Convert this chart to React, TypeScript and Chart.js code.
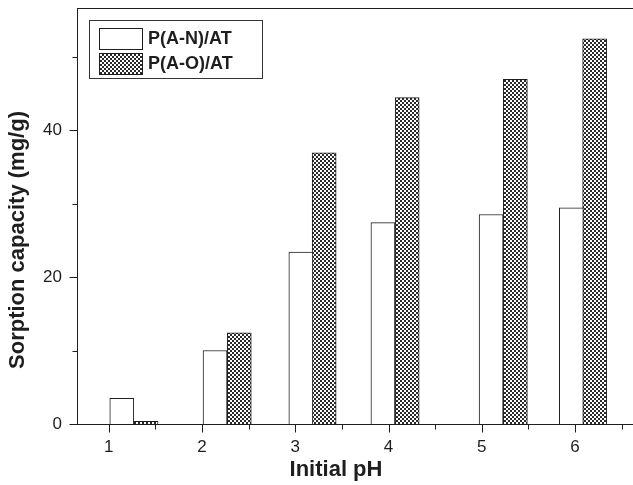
import React, { useEffect, useRef } from "react";
import { Chart, registerables } from "chart.js";

Chart.register(...registerables);

// ---- data ----
const xTickValues = [1, 2, 3, 4, 5, 6];
const xMinorValues = [1.5, 2.5, 3.5, 4.5, 5.5, 6.5];
const yTickValues = [0, 20, 40];
const yMinorValues = [10, 30, 50];
const seriesNames = ["P(A-N)/AT", "P(A-O)/AT"];
// bar centre positions (in pH units) and heights
const anX = [1.14, 2.14, 3.06, 3.94, 5.1, 5.96];
const anY = [3.5, 10.0, 23.4, 27.4, 28.5, 29.4];
const aoX = [1.4, 2.4, 3.31, 4.2, 5.36, 6.21];
const aoY = [0.35, 12.4, 36.9, 44.4, 46.9, 52.4];
const xTitle = "Initial pH";
const yTitle = "Sorption capacity (mg/g)";

const FONT = '"Liberation Sans", Arial, Helvetica, sans-serif';
const INK = "#1e1e1e";

function makePattern(): CanvasPattern | string {
  const c = document.createElement("canvas");
  c.width = 4;
  c.height = 4;
  const g = c.getContext("2d");
  if (!g) return "#777";
  g.fillStyle = "#ffffff";
  g.fillRect(0, 0, 4, 4);
  g.fillStyle = "#2a2a2a";
  g.fillRect(0, 0, 2, 2);
  g.fillRect(2, 2, 2, 2);
  const p = g.createPattern(c, "repeat");
  return p || "#777";
}

export default function App() {
  const ref = useRef<HTMLCanvasElement | null>(null);

  useEffect(() => {
    if (!ref.current) return;
    const pattern = makePattern();

    const decor = {
      id: "decor",
      afterDraw(chart: any) {
        const ctx = chart.ctx as CanvasRenderingContext2D;
        const a = chart.chartArea;
        const xs = chart.scales.x;
        const ys = chart.scales.y;
        ctx.save();
        ctx.strokeStyle = INK;
        ctx.lineWidth = 1;
        // frame
        ctx.strokeRect(Math.round(a.left) + 0.5, Math.round(a.top) + 0.5, Math.round(a.right - a.left), Math.round(a.bottom - a.top));
        // ticks
        ctx.beginPath();
        const L = Math.round(a.left) + 0.5;
        const B = Math.round(a.bottom) + 0.5;
        yTickValues.forEach((v) => {
          const y = Math.round(ys.getPixelForValue(v)) + 0.5;
          ctx.moveTo(L - 8, y);
          ctx.lineTo(L, y);
        });
        yMinorValues.forEach((v) => {
          const y = Math.round(ys.getPixelForValue(v)) + 0.5;
          ctx.moveTo(L - 5, y);
          ctx.lineTo(L, y);
        });
        xTickValues.forEach((v) => {
          const x = Math.round(xs.getPixelForValue(v)) + 0.5;
          ctx.moveTo(x, B);
          ctx.lineTo(x, B + 8);
        });
        xMinorValues.forEach((v) => {
          const x = Math.round(xs.getPixelForValue(v)) + 0.5;
          ctx.moveTo(x, B);
          ctx.lineTo(x, B + 5);
        });
        ctx.stroke();

        // axis titles
        ctx.fillStyle = INK;
        ctx.font = `bold 22px ${FONT}`;
        ctx.textAlign = "center";
        ctx.textBaseline = "alphabetic";
        ctx.fillText(xTitle, 336, 476);
        ctx.save();
        ctx.translate(24, 240);
        ctx.rotate(-Math.PI / 2);
        ctx.fillText(yTitle, 0, 0);
        ctx.restore();

        // legend
        const lx = 89.5, ly = 20.5, lw = 173, lh = 58;
        ctx.fillStyle = "#fff";
        ctx.fillRect(lx, ly, lw, lh);
        ctx.strokeStyle = "#333";
        ctx.strokeRect(lx, ly, lw, lh);
        const ds = chart.data.datasets;
        ctx.font = `bold 18px ${FONT}`;
        ctx.textAlign = "left";
        ctx.textBaseline = "middle";
        [28, 53].forEach((sy, i) => {
          ctx.fillStyle = ds[i].backgroundColor;
          ctx.fillRect(99, sy, 43, 21);
          ctx.strokeStyle = INK;
          ctx.strokeRect(99.5, sy + 0.5, 43, 21);
          ctx.fillStyle = INK;
          ctx.fillText(ds[i].label, 148, sy + 11.5);
        });
        ctx.restore();
      },
    };

    const chart = new Chart(ref.current, {
      type: "bar",
      data: {
        datasets: [
          {
            label: seriesNames[0],
            data: anX.map((x, i) => ({ x, y: anY[i] })),
            backgroundColor: "#ffffff",
            borderColor: INK,
            borderWidth: 1,
            barThickness: 24,
            grouped: false,
          } as any,
          {
            label: seriesNames[1],
            data: aoX.map((x, i) => ({ x, y: aoY[i] })),
            backgroundColor: pattern as any,
            borderColor: INK,
            borderWidth: 1,
            barThickness: 24,
            grouped: false,
          } as any,
        ],
      },
      options: {
        animation: false,
        responsive: false,
        maintainAspectRatio: false,
        layout: { padding: { top: 8, right: 15, left: 0, bottom: 0 } },
        plugins: { legend: { display: false }, tooltip: { enabled: false } },
        scales: {
          x: {
            type: "linear",
            min: 0.66,
            max: 6.75,
            offset: false,
            grid: { display: false },
            border: { display: true, color: INK },
            afterBuildTicks: (s: any) => {
              s.ticks = xTickValues.map((v) => ({ value: v }));
            },
            afterFit: (s: any) => {
              s.height = 61;
              s.paddingLeft = 0;
              s.paddingRight = 0;
            },
            ticks: {
              color: INK,
              font: { family: FONT, size: 17 },
              padding: 5,
              maxRotation: 0,
              autoSkip: false,
              callback: (v: any) => String(v),
            },
          },
          y: {
            min: 0,
            max: 56.6,
            grid: { display: false },
            border: { display: true, color: INK },
            afterBuildTicks: (s: any) => {
              s.ticks = yTickValues.map((v) => ({ value: v }));
            },
            afterFit: (s: any) => {
              s.width = 77;
              s.paddingTop = 0;
              s.paddingBottom = 0;
            },
            ticks: {
              color: INK,
              font: { family: FONT, size: 17 },
              padding: 7,
              callback: (v: any) => String(v),
            },
          },
        },
      },
      plugins: [decor],
    } as any);

    return () => chart.destroy();
  }, []);

  return (
    <div style={{ position: "absolute", left: 0, top: 0, width: 633, height: 485, overflow: "hidden", background: "#fff" }}>
      <canvas ref={ref} width={660} height={485} style={{ display: "block", width: 660, height: 485 }} />
    </div>
  );
}
